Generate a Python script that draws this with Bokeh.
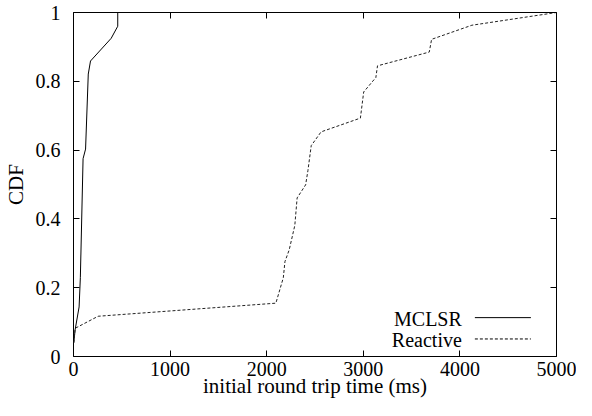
from bokeh.plotting import figure
from bokeh.models import Range1d, FixedTicker, LinearAxis, Label, Arrow
from bokeh.embed import file_html
from bokeh.resources import INLINE

# ---- data ----
mclsr_ms = [3, 17, 58, 71, 99, 125, 153, 176, 390, 458, 458]
mclsr_cdf = [0.04, 0.078, 0.144, 0.229, 0.575, 0.603, 0.821, 0.859, 0.925, 0.96, 1.0]

reactive_ms = [3, 17, 255, 2095, 2172, 2189, 2233, 2291, 2315, 2403, 2427, 2461,
               2563, 2970, 3004, 3130, 3147, 3683, 3707, 4124, 5000]
reactive_cdf = [0.04, 0.082, 0.117, 0.155, 0.229, 0.276, 0.31, 0.381, 0.461, 0.499,
                0.541, 0.613, 0.653, 0.693, 0.769, 0.811, 0.845, 0.885, 0.922, 0.963, 1.0]

x_ticks = [0, 1000, 2000, 3000, 4000, 5000]
x_tick_labels = ["0", "1000", "2000", "3000", "4000", "5000"]
y_ticks = [0, 0.2, 0.4, 0.6, 0.8, 1.0]
y_tick_labels = ["0", "0.2", "0.4", "0.6", "0.8", "1"]

series_names = ["MCLSR", "Reactive"]

FONT = "Liberation Serif"
FS = "20px"
FS_LABEL = "21px"

p = figure(width=576, height=400, output_backend="svg", toolbar_location=None,
           x_range=Range1d(0, 5000), y_range=Range1d(0, 1),
           min_border_left=67, min_border_right=20, min_border_top=12, min_border_bottom=40)
p.background_fill_color = "white"
p.border_fill_color = "white"
p.outline_line_color = "black"
p.outline_line_width = 1
p.xgrid.visible = False
p.ygrid.visible = False

xt = FixedTicker(ticks=x_ticks)
yt = FixedTicker(ticks=y_ticks)

for ax in p.xaxis:
    ax.ticker = xt
    ax.major_label_overrides = {t: l for t, l in zip(x_ticks, x_tick_labels)}
    ax.axis_label = "initial round trip time (ms)"
for ax in p.yaxis:
    ax.ticker = yt
    ax.major_label_overrides = {t: l for t, l in zip(y_ticks, y_tick_labels)}
    ax.axis_label = "CDF"

for ax in p.xaxis + p.yaxis:
    ax.axis_line_color = None
    ax.major_tick_in = 6
    ax.major_tick_out = 0
    ax.minor_tick_line_color = None
    ax.major_tick_line_color = "black"
    ax.major_label_text_font = FONT
    ax.major_label_text_font_size = FS
    ax.major_label_text_color = "black"
    ax.axis_label_text_font = FONT
    ax.axis_label_text_font_size = FS_LABEL
    ax.axis_label_text_font_style = "normal"
    ax.axis_label_text_color = "black"

p.xaxis.major_label_standoff = 5
p.xaxis.axis_label_standoff = -5
p.yaxis.major_label_standoff = 13
p.yaxis.axis_label_standoff = 5

# mirrored ticks on top and right
for loc, tk in (("above", xt), ("right", yt)):
    a = LinearAxis(ticker=tk, axis_line_color=None, major_tick_in=6, major_tick_out=0,
                   minor_tick_line_color=None, major_label_text_font_size="0px",
                   major_label_standoff=0, major_label_text_alpha=0)
    p.add_layout(a, loc)

p.line(mclsr_ms, mclsr_cdf, line_color="black", line_width=1)
p.line(reactive_ms, reactive_cdf, line_color="#222222", line_width=1, line_dash="3 2")

# gnuplot-style key: label then sample line, bottom right
key_text_x = 4020
key_line = (4155, 4735)
key_rows = [(0.11, "solid"), (0.048, "3 2")]
for name, (ky, dash) in zip(series_names, key_rows):
    p.add_layout(Label(x=key_text_x, y=ky, text=name, text_align="right",
                       text_baseline="middle", text_font=FONT, text_font_size=FS,
                       text_color="black"))
    p.add_layout(Arrow(x_start=key_line[0], y_start=ky + 0.003, x_end=key_line[1],
                       y_end=ky + 0.003, start=None, end=None, line_color="black",
                       line_width=1, line_dash=dash))

open("out.html", "w").write(file_html(p, INLINE))
